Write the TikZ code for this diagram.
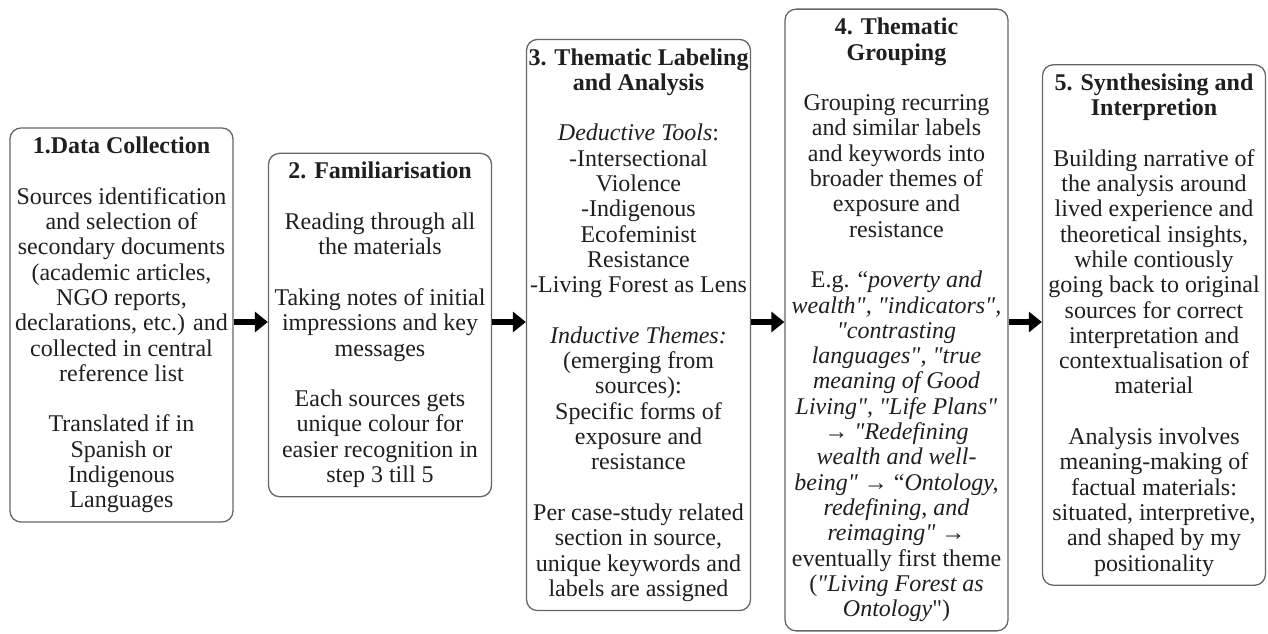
\documentclass[tikz,border=0pt]{standalone}
\usepackage{fontspec}
\setmainfont{Liberation Serif}[Ligatures=TeXOff]
\usetikzlibrary{arrows.meta}
\tikzset{
  stagebox/.style={draw=black!60, line width=1.3pt, rounded corners=11pt,
    align=center, minimum width=223pt, inner xsep=2pt, inner ysep=9pt,
    text=black!88, font=\fontsize{24}{25.3}\selectfont, fill=white},
  flowarrow/.style={line width=6pt, black, -{Triangle[length=13pt,width=20pt]}}
}
\newcommand{\gapline}{\\[\baselineskip]}
\newcommand{\sq}{"}
\begin{document}
\begin{tikzpicture}[x=1pt, y=-1pt]
\useasboundingbox (0,0) rectangle (1268,634);
\node[stagebox] (b1) at (121.5,325) {\textbf{1.Data Collection}\gapline
Sources identification\\ and selection of\\ secondary documents\\ (academic articles,\\ NGO reports,\\ declarations, etc.) and\\ collected in central\\ reference list\gapline
Translated if in\\ Spanish or\\ Indigenous\\ Languages};
\node[stagebox] (b2) at (380,325) {\textbf{2. Familiarisation}\gapline
Reading through all\\ the materials\gapline
Taking notes of initial\\ impressions and key\\ messages\gapline
Each sources gets\\ unique colour for\\ easier recognition in\\ step 3 till 5};
\node[stagebox] (b3) at (638.5,325) {\textbf{3. Thematic Labeling}\\ \textbf{and Analysis}\gapline
\textit{Deductive Tools}:\\ -Intersectional\\ Violence\\ -Indigenous\\ Ecofeminist\\ Resistance\\ -Living Forest as Lens\gapline
\textit{Inductive Themes:}\\ (emerging from\\ sources):\\ Specific forms of\\ exposure and\\ resistance\gapline
Per case-study related\\ section in source,\\ unique keywords and\\ labels are assigned};
\node[stagebox] (b4) at (896.5,320) {\textbf{4. Thematic}\\ \textbf{Grouping}\gapline
Grouping recurring\\ and similar labels\\ and keywords into\\ broader themes of\\ exposure and\\ resistance\gapline
E.g. “\textit{poverty and}\\ \textit{wealth\sq, \sq indicators\sq,}\\ \textit{\sq contrasting}\\ \textit{languages\sq, \sq true}\\ \textit{meaning of Good}\\ \textit{Living\sq, \sq Life Plans\sq}\\ → \textit{\sq Redefining}\\ \textit{wealth and well-}\\ \textit{being\sq} → “\textit{Ontology,}\\ \textit{redefining, and}\\ \textit{reimaging\sq} →\\ eventually first theme\\ (\textit{\sq Living Forest as}\\ \textit{Ontology}\sq)};
\node[stagebox] (b5) at (1154,325) {\textbf{5. Synthesising and}\\ \textbf{Interpretion}\gapline
Building narrative of\\ the analysis around\\ lived experience and\\ theoretical insights,\\ while contiously\\ going back to original\\ sources for correct\\ interpretation and\\ contextualisation of\\ material\gapline
Analysis involves\\ meaning-making of\\ factual materials:\\ situated, interpretive,\\ and shaped by my\\ positionality};
\draw[flowarrow] (b1.east |- 0,322) -- (b2.west |- 0,322);
\draw[flowarrow] (b2.east |- 0,322) -- (b3.west |- 0,322);
\draw[flowarrow] (b3.east |- 0,322) -- (b4.west |- 0,322);
\draw[flowarrow] (b4.east |- 0,322) -- (b5.west |- 0,322);
\end{tikzpicture}
\end{document}
